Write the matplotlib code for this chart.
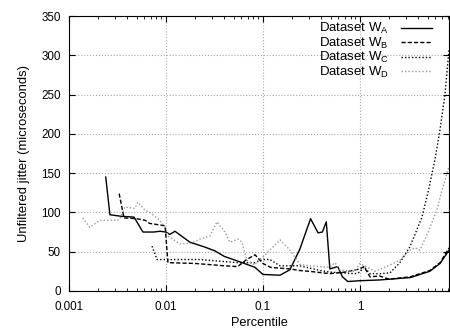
import matplotlib
matplotlib.use("Agg")
import matplotlib.pyplot as plt
import numpy as np

plt.rcParams['font.family'] = ['Liberation Sans', 'DejaVu Sans']
plt.rcParams['font.size'] = 8.6

# dataset W_A (solid)
pa = [0.0024, 0.00265, 0.0035, 0.0047, 0.0058, 0.0075, 0.0087, 0.01, 0.011, 0.0124,
      0.0177, 0.025, 0.032, 0.04, 0.058, 0.083, 0.1, 0.15, 0.19, 0.24, 0.31, 0.37,
      0.41, 0.45, 0.49, 0.59, 0.66, 0.75, 1.0, 1.6, 3.3, 5.25, 6.7, 8.3]
ja = [145, 97, 95, 94, 75, 75, 76, 75, 72, 76,
      62, 56, 51, 44, 37, 30, 21, 20, 27, 53, 92, 74,
      75, 88, 28, 31, 18, 12, 13, 14, 17, 25, 35, 52]

# dataset W_B (dashed)
pb = [0.0033, 0.0037, 0.005, 0.0061, 0.0068, 0.0087, 0.0098, 0.0105, 0.02, 0.04,
      0.055, 0.068, 0.083, 0.1, 0.12, 0.19, 0.24, 0.3, 0.49, 0.7, 1.0, 1.1, 1.27,
      1.6, 2.0, 3.3, 5.25, 6.7, 8.3]
jb = [124, 93, 92, 90, 86, 84, 83, 36, 35, 32,
      31, 40, 46, 35, 30, 28, 26, 25, 22, 24, 28, 31, 18,
      19, 15, 18, 26, 36, 55]

# dataset W_C (dotted)
pc = [0.0072, 0.0081, 0.01, 0.0224, 0.055, 0.083, 0.1, 0.118, 0.15, 0.24, 0.39,
      0.49, 0.89, 1.0, 1.1, 1.27, 1.61, 2.04, 2.58, 3.27, 4.36, 5.02, 5.93, 6.68,
      7.52, 8.28]
jc = [57, 40, 40, 40, 36, 36, 40, 40, 32, 32, 26,
      24, 22, 24, 31, 22, 22, 23, 36, 56, 94, 125, 167, 205,
      250, 307]

# dataset W_D (grey dotted)
pd_ = [0.00139, 0.00164, 0.00209, 0.0032, 0.00336, 0.00378, 0.00479, 0.00514,
       0.00608, 0.00684, 0.00866, 0.01, 0.0105, 0.0139, 0.0177, 0.0224, 0.0284,
       0.0336, 0.0406, 0.0457, 0.0552, 0.0608, 0.0685, 0.083, 0.089, 0.1, 0.15,
       0.19, 0.24, 0.305, 0.49, 0.552, 0.622, 0.7, 0.887, 1.0, 1.43, 2.04, 2.58,
       3.27, 3.69, 4.16, 5.02, 6.2, 7.15, 8.28]
jd = [93, 81, 90, 90, 92, 107, 105, 113,
      103, 100, 90, 80, 70, 60, 60, 66, 70,
      88, 75, 62, 66, 62, 39, 33, 39, 43, 65,
      52, 34, 32, 30, 36, 27, 26, 25, 35, 25, 33, 39,
      52, 55, 52, 74, 103, 132, 158]

fig = plt.figure(figsize=(4.5, 3.28), dpi=100)
ax = fig.add_axes([0.153, 0.113, 0.845, 0.838])

ax.plot(pa, ja, color='black', lw=1.0, ls='-', label='Dataset W$_\\mathregular{A}$')
ax.plot(pb, jb, color='black', lw=1.0, ls=(0, (3, 1.5)), label='Dataset W$_\\mathregular{B}$')
ax.plot(pc, jc, color='black', lw=1.0, ls=(0, (1, 1.5)), label='Dataset W$_\\mathregular{C}$')
ax.plot(pd_, jd, color='#999999', lw=1.0, ls=(0, (1, 1.5)), label='Dataset W$_\\mathregular{D}$')

ax.set_xscale('log')
ax.set_xlim(0.001, 8.3)
ax.set_ylim(0, 350)
ax.set_yticks(np.arange(0, 351, 50))
ax.set_xticks([0.001, 0.01, 0.1, 1])
ax.set_xticklabels(['0.001', '0.01', '0.1', '1'])
ax.tick_params(which='both', direction='in', top=True, right=True)
ax.tick_params(which='major', length=4, labelsize=8.4)
ax.tick_params(which='minor', length=2)
ax.tick_params(axis='x', pad=7)
ax.tick_params(axis='y', pad=6)
ax.grid(True, which='major', color='#aaaaaa', ls=':', lw=0.8)

ax.set_xlabel('Percentile', fontsize=9.2, labelpad=3)
ax.set_ylabel('Unfiltered jitter (microseconds)', fontsize=9.4, labelpad=8)

ax.legend(loc='upper right', bbox_to_anchor=(0.97, 1.0), frameon=False,
          markerfirst=False, handlelength=2.4, handletextpad=0.9,
          labelspacing=-0.05, borderaxespad=0.0, fontsize=9.5)

fig.savefig('out.png', dpi=100)
